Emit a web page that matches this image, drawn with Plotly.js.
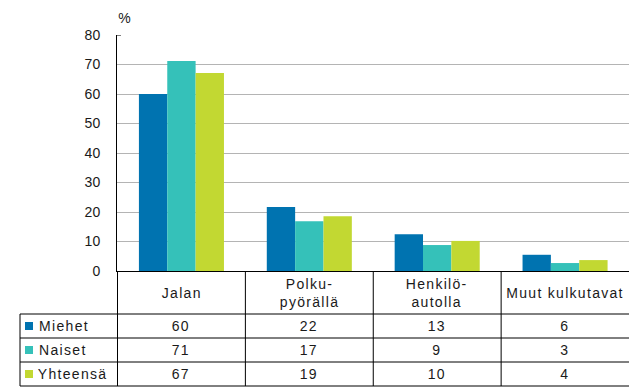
<!DOCTYPE html>
<html>
<head>
<meta charset="utf-8">
<script src="https://cdn.plot.ly/plotly-3.0.1.min.js"></script>
<style>
html,body{margin:0;padding:0;background:#fff}
#chart{width:629px;height:391px}
#chart .annotation-text{letter-spacing:1.3px}
</style>
</head>
<body>
<div id="chart"></div>
<script>
// ---- data ----
var categories = ["Jalan", "Polku-<br>pyörällä", "Henkilö-<br>autolla", "Muut kulkutavat"];
var seriesNames = ["Miehet", "Naiset", "Yhteensä"];
var miehet = [60, 21.7, 12.5, 5.5];
var naiset = [71.2, 16.9, 8.8, 2.7];
var yhteensa = [67.1, 18.6, 10.2, 3.7];
var miehetTable = ["60", "22", "13", "6"];
var naisetTable = ["71", "17", "9", "3"];
var yhteensaTable = ["67", "19", "10", "4"];
var yTicks = [0, 10, 20, 30, 40, 50, 60, 70, 80];

var colors = ["#0073B0", "#35C1B9", "#C2D832"];
var seriesValues = [miehet, naiset, yhteensa];
var tableValues = [miehetTable, naisetTable, yhteensaTable];

// ---- geometry (pixels) ----
var W = 629, H = 391;
var L = 117, R = 0, T = 35, B = 120;
var plotW = W - L - R, plotH = H - T - B;
function py(px) { return (H - B - px) / plotH; }   // pixel y -> paper y
function pxX(px) { return (px - L) / plotW; }     // pixel x -> paper x
var rowEdges = [271, 314, 338, 362, 386];
var tableLeft = 20;

var font = {family: "Liberation Sans, Arial, sans-serif", size: 14, color: "#1a1a1a"};

var traces = seriesNames.map(function (n, i) {
  return {type: "bar", name: n, x: categories, y: seriesValues[i],
    marker: {color: colors[i], line: {width: 0}}, hoverinfo: "skip"};
});

var shapes = [];
var annotations = [];
// horizontal table lines
for (var r = 1; r < rowEdges.length; r++) {
  shapes.push({type: "line", xref: "paper", yref: "paper", x0: pxX(tableLeft), x1: 1,
    y0: py(rowEdges[r]), y1: py(rowEdges[r]), line: {color: "#000", width: 1}});
}
// vertical column lines
for (var c = 0; c < categories.length; c++) {
  shapes.push({type: "line", xref: "x", yref: "paper", x0: c - 0.5, x1: c - 0.5,
    y0: 0, y1: py(rowEdges[rowEdges.length - 1]), line: {color: "#000", width: 1}});
}
// left border of legend column
shapes.push({type: "line", xref: "paper", yref: "paper", x0: pxX(tableLeft), x1: pxX(tableLeft),
  y0: py(rowEdges[1]), y1: py(rowEdges[4]), line: {color: "#000", width: 1}});
// tick stub at 80
shapes.push({type: "line", xref: "paper", yref: "y", x0: 0, x1: pxX(L + 4), y0: 80, y1: 80,
  line: {color: "#000", width: 1}});

// category labels
categories.forEach(function (cat, i) {
  annotations.push({xref: "x", yref: "paper", x: i, y: py((rowEdges[0] + rowEdges[1]) / 2),
    text: cat, showarrow: false, xanchor: "center", yanchor: "middle", font: font});
});
// rows
seriesNames.forEach(function (n, s) {
  var yc = py((rowEdges[s + 1] + rowEdges[s + 2]) / 2);
  shapes.push({type: "rect", xref: "paper", yref: "paper", x0: pxX(25), x1: pxX(33),
    y0: yc - 4 / plotH, y1: yc + 4 / plotH, fillcolor: colors[s], line: {width: 0}});
  annotations.push({xref: "paper", yref: "paper", x: pxX(41), y: yc, text: n, showarrow: false,
    xanchor: "left", yanchor: "middle", font: font});
  tableValues[s].forEach(function (v, i) {
    annotations.push({xref: "x", yref: "paper", x: i, y: yc, text: v, showarrow: false,
      xanchor: "center", yanchor: "middle", font: font});
  });
});
// % label
annotations.push({xref: "paper", yref: "paper", x: pxX(117), y: py(18), text: "%", showarrow: false,
  xanchor: "left", yanchor: "middle", font: font});

var layout = {
  width: W, height: H,
  margin: {l: L, r: R, t: T, b: B, pad: 0},
  paper_bgcolor: "#fff", plot_bgcolor: "#fff",
  showlegend: false,
  barmode: "group", bargap: 0.335, bargroupgap: 0,
  font: font,
  xaxis: {showticklabels: false, showline: true, linecolor: "#000", linewidth: 1,
    ticks: "", showgrid: false, zeroline: false, fixedrange: true},
  yaxis: {range: [0, 80], tickvals: yTicks, ticktext: yTicks.map(String), showline: true,
    linecolor: "#000", linewidth: 1, ticks: "", showgrid: true, gridcolor: "#B4B4B4",
    gridwidth: 1, zeroline: false, tickfont: font, ticklabelstandoff: 13, fixedrange: true},
  shapes: shapes,
  annotations: annotations
};

Plotly.newPlot("chart", traces, layout, {displayModeBar: false, staticPlot: true});
</script>
</body>
</html>
